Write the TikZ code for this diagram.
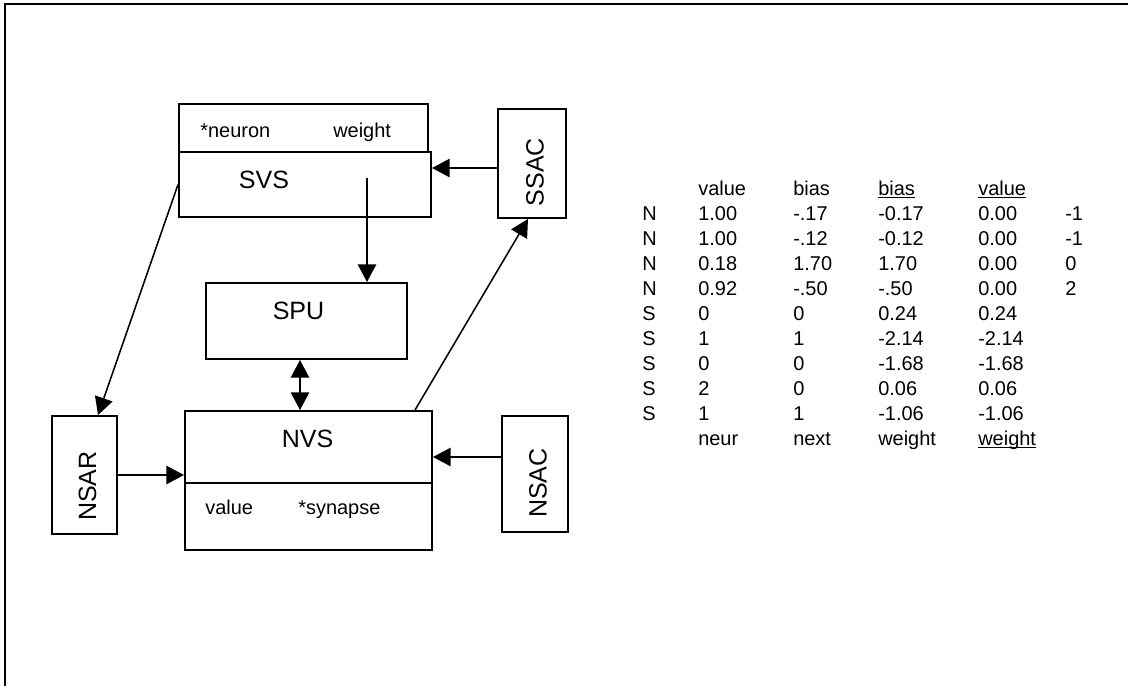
\documentclass[tikz,border=0pt]{standalone}
\usepackage{fontspec}
\setmainfont{Liberation Sans}
\usetikzlibrary{arrows.meta, calc, positioning}
\newcommand{\pxu}{0.025cm}
\newcommand{\hdrul}[1]{\setbox0\hbox{#1}\rlap{\rule[-2.4pt]{\wd0}{0.9pt}}\box0}

\begin{document}
\begin{tikzpicture}[x=0.025cm, y=-0.025cm,
    box/.style={draw, line width=1.4pt, inner sep=0pt},
    conn/.style={line width=1.1pt, -{Triangle[length=12.5pt, width=13pt]}},
    dbl/.style={line width=1.1pt, {Triangle[length=12.5pt, width=13pt]}-{Triangle[length=12.5pt, width=13pt]}},
    lbl/.style={font=\fontsize{17.8pt}{21pt}\selectfont, inner sep=0pt},
    fld/.style={font=\fontsize{14.2pt}{17pt}\selectfont, inner sep=0pt, anchor=base west}]
\useasboundingbox (0,0) rectangle (1128,685);
\clip (0,0) rectangle (1128,685);
% Frame
\draw[line width=1.8pt] (5,4) rectangle (1140,700);
% Boxes
\node[box, minimum width=249*\pxu, minimum height=48*\pxu] (svsfld) at (303.5,128) {};
\node[box, minimum width=252*\pxu, minimum height=65*\pxu] (svsbox) at (305,184.5) {};
\node[box, minimum width=68*\pxu, minimum height=109*\pxu] (ssac) at (532,163.5) {};
\node[box, minimum width=201*\pxu, minimum height=76*\pxu] (spu) at (306.5,321) {};
\node[box, minimum width=247*\pxu, minimum height=72*\pxu] (nvsbox) at (308.5,447) {};
\node[box, minimum width=247*\pxu, minimum height=67*\pxu] (nvsfld) at (308.5,516.5) {};
\node[box, minimum width=65*\pxu, minimum height=118*\pxu] (nsar) at (84.5,475) {};
\node[box, minimum width=66*\pxu, minimum height=116*\pxu] (nsac) at (535,474) {};
% Labels
\node[lbl] (svslbl) at (264,180) {SVS};
\node[lbl] (spulbl) at (298.5,310.5) {SPU};
\node[lbl] (nvslbl) at (307.5,439) {NVS};
\node[lbl, rotate=90] (ssaclbl) at (535,172) {SSAC};
\node[lbl, rotate=90] (nsarlbl) at (87.5,486) {NSAR};
\node[lbl, rotate=90] (nsaclbl) at (538,483) {NSAC};
\node[fld] (neuron) at (200,137) {*neuron};
\node[fld] (weight) at (333,137) {weight};
\node[fld] (value) at (205,514) {value};
\node[fld] (synapse) at (298,514) {*synapse};
% Connectors
\coordinate (ssacout) at ($(ssac.west)+(0,4.5)$);
\coordinate (svsout) at (367,178);
\coordinate (spuio) at (spu.south -| 300,0);
\coordinate (nsacout) at ($(nsac.west)+(0,-17)$);
\coordinate (nsarin) at ($(nsar.north)+(13.5,0)$);
\coordinate (nvsup) at ($(nvsbox.north)+(106.5,0)$);
\coordinate (ssacin) at ($(ssac.south)+(-4,0)$);
\draw[conn] (ssacout) -- (ssacout -| svsbox.east);
\draw[conn] (svsout) -- (svsout |- spu.north);
\draw[dbl] (spuio) -- (spuio |- nvsbox.north);
\draw[conn] (nsar.east) -- (nsar.east -| nvsbox.west);
\draw[conn] (nsacout) -- (nsacout -| nvsbox.east);
\draw[conn] (svsbox.west) -- (nsarin);
\draw[conn] (nvsup) -- (ssacin);
% Table
\node[fld] (h1) at (698,195) {value};
\node[fld] (h2) at (793,195) {bias};
\node[fld] (h3) at (878,195) {\hdrul{bias}};
\node[fld] (h4) at (978,195) {\hdrul{value}};
\foreach \t/\a/\b/\c/\d/\e [count=\i] in {N/1.00/-.17/-0.17/0.00/-1, N/1.00/-.12/-0.12/0.00/-1,
    N/0.18/1.70/1.70/0.00/0, N/0.92/-.50/-.50/0.00/2, S/0/0/0.24/0.24/{}, S/1/1/-2.14/-2.14/{},
    S/0/0/-1.68/-1.68/{}, S/2/0/0.06/0.06/{}, S/1/1/-1.06/-1.06/{}} {
  \node[fld] (r\i c0) at (642,195+25*\i) {\t};
  \node[fld] (r\i c1) at (698,195+25*\i) {\a};
  \node[fld] (r\i c2) at (793,195+25*\i) {\b};
  \node[fld] (r\i c3) at (878,195+25*\i) {\c};
  \node[fld] (r\i c4) at (978,195+25*\i) {\d};
  \node[fld] (r\i c5) at (1065,195+25*\i) {\e};
}
\node[fld] (f1) at (698,445) {neur};
\node[fld] (f2) at (793,445) {next};
\node[fld] (f3) at (878,445) {weight};
\node[fld] (f4) at (978,445) {\hdrul{weight}};
\end{tikzpicture}
\end{document}
